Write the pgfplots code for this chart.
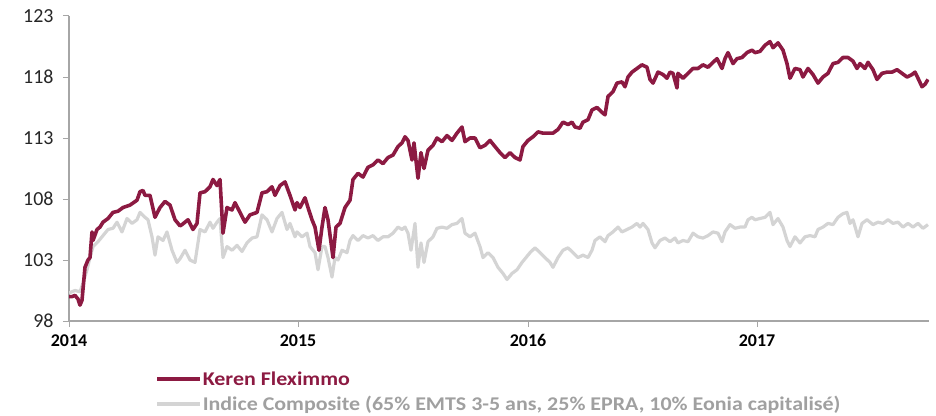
\documentclass[border=0pt]{standalone}
\usepackage{pgfplots}
\pgfplotsset{compat=1.18}
\usepackage{fontspec}
\setmainfont{Carlito}
\newfontfamily\legfont{Carlito}[FakeStretch=1.13]
\definecolor{keren}{RGB}{140,26,66}
\definecolor{indice}{RGB}{212,212,212}
\definecolor{legendgray}{RGB}{160,160,160}
\definecolor{axisgray}{RGB}{166,166,166}
\definecolor{labeldark}{RGB}{38,38,38}
\begin{document}
\begin{tikzpicture}
\begin{axis}[
  scale only axis,
  width=860bp, height=305bp,
  xmin=69, xmax=929, ymin=98, ymax=123,
  axis x line*=bottom, axis y line*=left,
  axis line style={axisgray, line width=1.2bp, -},
  xtick={69,298,528,757},
  xticklabels={2014,2015,2016,2017},
  ytick={98,103,108,113,118,123},
  tick align=outside,
  major tick length=6bp,
  tick style={axisgray, line width=1bp},
  /pgf/number format/assume math mode=true,
  xticklabel style={font=\fontsize{18}{20}\selectfont\bfseries, text=black, yshift=-4bp},
  yticklabel style={font=\fontsize{20}{22}\selectfont, text=labeldark, xshift=-6bp},
  reverse legend,
  legend cell align=left,
  legend style={at={(axis description cs:0.1,-0.158)}, anchor=north west,
    draw=none, fill=none, inner sep=0pt, row sep=5.5bp,
    font=\legfont\fontsize{19.5}{21}\selectfont\bfseries,
    nodes={inner xsep=1bp, inner ysep=2bp}},
  legend image code/.code={\draw[#1] (0bp,0bp) -- (43bp,0bp);},
]
\addplot[indice, line width=3.2bp, line join=round] coordinates {
(69,100.3)(75,100.5)(80,100.4)(83,101.1)(87,102.2)(90,103.2)(93,104.1)(98,104.5)(103,105.0)(108,105.5)
(113,105.6)(117,106.1)(122,105.3)(127,106.4)(132,106.0)(137,106.3)(140,106.9)(145,106.5)(148,106.3)(152,104.9)
(155,103.4)(158,104.9)(163,104.6)(167,105.3)(172,103.8)(177,102.8)(180,103.1)(185,103.8)(190,103.0)(195,102.8)
(200,105.5)(205,105.3)(210,106.1)(213,105.6)(217,106.1)(220,106.4)(223,103.2)(227,104.1)(232,103.8)(237,104.2)
(242,103.7)(247,104.4)(252,104.8)(257,104.9)(262,106.7)(267,106.3)(272,105.3)(277,106.4)(282,106.9)(287,105.5)
(290,106.0)(295,104.9)(297,105.3)(302,104.9)(307,105.2)(310,104.1)(315,103.6)(318,102.2)(322,104.1)(325,104.1)
(328,103.2)(332,101.6)(335,103.2)(338,103.0)(342,103.8)(347,103.6)(350,104.6)(353,105.0)(358,104.6)(363,105.0)
(368,104.8)(373,105.0)(378,104.6)(383,104.9)(388,104.9)(393,105.2)(398,105.7)(402,105.5)(405,105.7)(408,105.2)
(411,103.8)(415,106.0)(418,102.4)(421,104.4)(424,102.8)(428,104.5)(433,104.9)(437,105.6)(442,105.7)(447,105.6)
(452,105.9)(457,106.0)(462,106.4)(465,105.2)(470,104.9)(475,105.2)(480,104.1)(483,103.2)(488,103.6)(493,103.2)
(498,102.4)(503,101.9)(507,101.4)(512,101.9)(517,102.2)(522,102.8)(525,103.1)(530,103.6)(535,104.0)(540,103.6)
(545,103.2)(550,102.8)(553,102.4)(558,103.2)(563,103.8)(568,104.0)(573,103.6)(578,103.2)(583,103.4)(588,103.2)
(592,103.8)(595,104.6)(600,104.9)(605,104.5)(608,105.0)(613,105.3)(618,105.7)(622,105.3)(627,105.5)(632,105.7)
(637,106.0)(640,105.7)(643,106.0)(648,105.5)(652,104.4)(655,104.0)(660,104.6)(665,104.8)(670,104.5)(675,104.8)
(678,104.4)(683,104.6)(688,104.5)(693,105.2)(698,104.9)(703,104.8)(708,105.0)(713,105.3)(718,105.2)(722,104.5)
(725,105.3)(730,105.9)(735,105.6)(740,105.7)(745,105.7)(748,106.3)(752,106.5)(755,106.3)(760,106.4)(765,106.5)
(770,106.9)(773,105.9)(778,106.4)(783,105.7)(787,104.6)(790,104.1)(795,104.9)(800,104.4)(805,104.9)(810,105.0)
(815,104.9)(818,105.5)(823,105.7)(828,106.0)(833,105.9)(838,106.5)(843,106.8)(847,106.9)(850,106.0)(853,106.3)
(858,104.9)(862,106.0)(867,106.3)(873,105.9)(878,106.1)(883,106.0)(888,106.3)(893,106.0)(898,106.1)(903,105.7)
(908,106.0)(913,105.7)(918,106.0)(923,105.6)(928,105.9)
};
\addlegendentry{\textcolor{legendgray}{Indice Composite (65\% EMTS 3-5 ans, 25\% EPRA, 10\% Eonia capitalisé)}}
\addplot[keren, line width=3.6bp, line join=round] coordinates {
(69,100.0)(72,100.0)(75,100.1)(78,99.8)(80,99.3)(82,99.7)(85,102.4)(88,103.0)(90,103.2)(92,105.3)
(93,104.6)(97,105.5)(100,105.7)(103,106.1)(108,106.4)(113,106.9)(118,107.0)(123,107.3)(130,107.5)(137,107.9)
(140,108.6)(143,108.7)(145,108.3)(150,108.3)(155,106.5)(160,107.3)(165,107.8)(170,107.5)(175,106.3)(180,105.8)
(182,105.9)(188,106.3)(193,105.5)(197,106.0)(200,108.5)(205,108.6)(210,109.0)(213,109.6)(217,109.1)(220,109.6)
(223,105.2)(227,107.3)(232,107.1)(235,107.7)(240,106.9)(245,106.1)(250,106.7)(257,106.9)(262,108.5)(267,108.6)
(272,109.0)(275,108.3)(280,109.1)(285,109.4)(290,108.3)(295,107.1)(297,107.7)(300,107.3)(305,108.1)(308,107.3)
(312,106.3)(315,105.7)(319,103.8)(322,105.7)(325,107.3)(328,106.3)(333,103.2)(336,105.7)(340,106.0)(345,107.3)
(350,107.9)(353,109.6)(358,110.1)(363,109.8)(368,110.6)(373,110.8)(378,111.2)(383,110.9)(388,111.4)(393,111.6)
(398,112.3)(402,112.6)(405,113.1)(408,112.8)(412,111.2)(414,112.6)(418,109.7)(421,111.8)(424,110.5)(428,112.0)
(433,112.4)(437,113.0)(442,112.7)(447,113.2)(452,112.8)(457,113.4)(462,113.9)(465,112.7)(470,113.0)(475,113.0)
(480,112.2)(485,112.4)(490,112.8)(495,112.3)(500,111.8)(505,111.4)(510,111.8)(515,111.4)(520,111.2)(523,112.3)
(528,112.8)(533,113.1)(538,113.5)(543,113.4)(548,113.4)(553,113.4)(558,113.7)(563,114.3)(568,114.1)(572,114.3)
(575,113.9)(580,113.8)(583,114.3)(588,114.5)(592,115.3)(597,115.5)(602,115.1)(605,114.9)(608,116.4)(613,116.8)
(617,117.5)(622,117.6)(625,117.2)(628,118.0)(632,118.4)(637,118.7)(642,119.0)(647,118.8)(650,117.8)(653,117.5)
(658,118.4)(663,118.2)(667,117.9)(670,118.4)(673,118.3)(677,117.1)(678,118.3)(683,117.9)(688,118.3)(693,118.7)
(698,118.7)(703,119.0)(708,118.8)(713,119.2)(717,119.5)(722,118.7)(725,119.5)(728,120.0)(733,119.1)(737,119.5)
(742,119.6)(747,120.0)(752,120.2)(755,120.0)(760,120.1)(765,120.6)(770,120.9)(773,120.4)(778,120.8)(783,120.2)
(787,119.1)(790,117.9)(795,118.7)(800,118.6)(803,118.0)(808,118.7)(813,118.2)(818,117.5)(823,118.0)(828,118.3)
(833,119.1)(838,119.2)(843,119.6)(848,119.6)(853,119.3)(857,118.7)(860,119.1)(865,118.7)(868,119.2)(873,118.6)
(877,117.8)(882,118.3)(887,118.4)(892,118.4)(897,118.6)(902,118.3)(907,118.0)(912,118.2)(915,118.4)(918,117.9)
(922,117.2)(925,117.4)(928,117.8)
};
\addlegendentry{\textcolor{keren}{Keren Fleximmo}}
\end{axis}
\pgfresetboundingbox
\path[use as bounding box] (current axis.south west) ++(-69bp,-95bp) rectangle ++(936bp,416bp);
\end{tikzpicture}
\end{document}
